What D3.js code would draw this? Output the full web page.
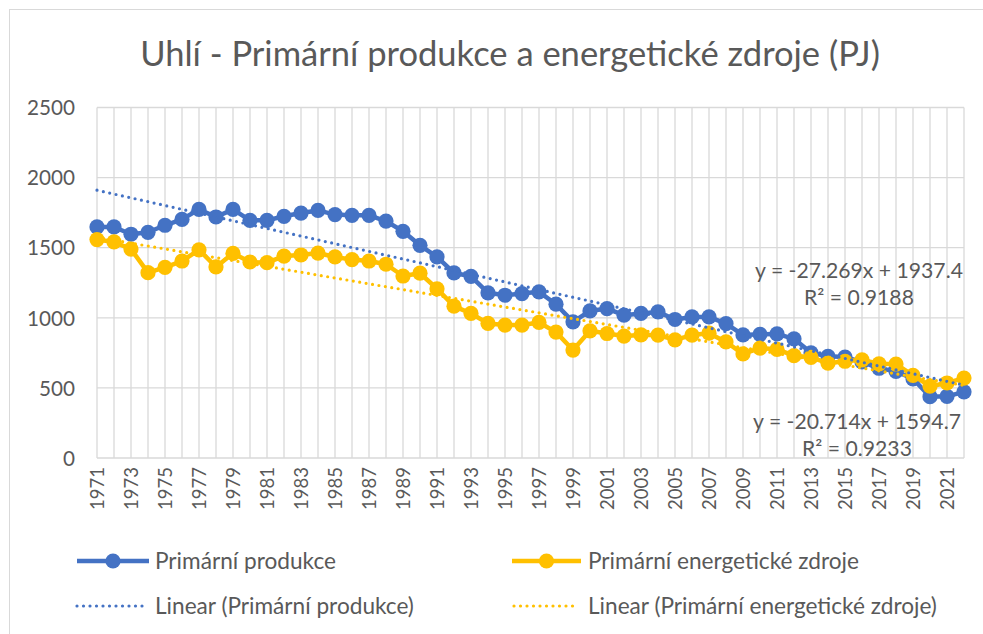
<!DOCTYPE html>
<html><head><meta charset="utf-8">
<script src="https://cdn.jsdelivr.net/npm/d3@7"></script>
<style>
body{margin:0;background:#fff}
svg{display:block}
text{font-family:Lato,"Open Sans",sans-serif;fill:#595959}
</style>
</head><body>
<svg id="chart" width="983" height="634"></svg>
<script>
const title = "Uhlí - Primární produkce a energetické zdroje (PJ)";
const years = [1971,1972,1973,1974,1975,1976,1977,1978,1979,1980,1981,1982,1983,1984,1985,1986,1987,1988,1989,1990,
  1991,1992,1993,1994,1995,1996,1997,1998,1999,2000,2001,2002,2003,2004,2005,2006,2007,2008,2009,2010,
  2011,2012,2013,2014,2015,2016,2017,2018,2019,2020,2021,2022];
const seriesNames = ["Primární produkce", "Primární energetické zdroje"];
const produkce = [1648,1648,1596,1610,1660,1702,1773,1719,1773,1695,1695,1724,1747,1766,1736,1731,1731,1690,1617,1517,
  1434,1320,1296,1178,1161,1173,1185,1097,971,1049,1066,1019,1031,1042,988,1006,1006,959,878,882,
  885,850,750,725,720,685,640,618,565,437,440,472];
const zdroje = [1558,1541,1490,1322,1360,1405,1485,1363,1460,1398,1393,1440,1448,1462,1434,1415,1405,1382,1298,1318,
  1207,1083,1031,960,948,948,967,898,770,907,888,870,878,877,842,877,890,828,742,783,
  775,730,718,676,690,700,672,670,590,512,535,570];
const trendSlope = [-27.269, -20.714];
const trendIntercept = [1937.4, 1594.7];
const rSquared = ["0.9188", "0.9233"];
const yTicks = [0,500,1000,1500,2000,2500];
const xTickLabels = [1971,1973,1975,1977,1979,1981,1983,1985,1987,1989,1991,1993,1995,1997,1999,2001,2003,2005,2007,2009,2011,2013,2015,2017,2019,2021];
const colors = ["#4472C4", "#FFC000"];

const svg = d3.select("#chart");
const L = 97, R = 964, T = 107.5, B = 458;
const x = d3.scalePoint().domain(years).range([L, R]);
const y = d3.scaleLinear().domain([0, 2500]).range([B, T]);

function fitSize(sel, target, base) {
  sel.style("font-size", base + "px");
  const w = sel.node().getComputedTextLength();
  return base * target / w;
}

// frame
svg.append("rect").attr("x", 9.5).attr("y", 9.5).attr("width", 1000).attr("height", 700)
  .attr("fill", "none").attr("stroke", "#d9d9d9").attr("stroke-width", 1);

// title
const t = svg.append("text").attr("x", 510).attr("y", 66).attr("text-anchor", "middle").text(title);
t.style("font-size", fitSize(t, 740, 30) + "px");

// gridlines
const grid = svg.append("g");
grid.selectAll("line.h").data(yTicks).join("line")
  .attr("x1", L).attr("x2", R).attr("y1", d => y(d)).attr("y2", d => y(d))
  .attr("stroke", "#d9d9d9").attr("stroke-width", 1.3);
grid.selectAll("line.v").data(years).join("line")
  .attr("x1", d => x(d)).attr("x2", d => x(d)).attr("y1", T).attr("y2", B)
  .attr("stroke", "#d9d9d9").attr("stroke-width", 1.3);

// y axis
const yAxis = svg.append("g").attr("transform", `translate(75,0)`)
  .call(d3.axisLeft(y).tickValues(yTicks).tickFormat(d3.format("d")).tickSize(0).tickPadding(0));
yAxis.select(".domain").remove();
const yt = yAxis.selectAll("text");
const ySize = fitSize(d3.select(yt.nodes()[5]), 48, 20);
yt.style("font-size", ySize + "px").attr("fill", "#595959").attr("font-family", null).attr("dy", "0.35em");

// x axis
const xAxis = svg.append("g").attr("transform", `translate(0,${B})`)
  .call(d3.axisBottom(x).tickValues(xTickLabels).tickSize(0).tickPadding(0));
xAxis.select(".domain").remove();
const xt = xAxis.selectAll("text");
const xSize = fitSize(d3.select(xt.nodes()[0]), 43, 18);
xt.style("font-size", xSize + "px").attr("fill", "#595959").attr("font-family", null)
  .attr("text-anchor", "end").attr("transform", "rotate(-90)")
  .attr("x", -9).attr("y", 0).attr("dy", "0.35em");

// series
const line = d3.line().x((d, i) => x(years[i])).y(d => y(d));
[produkce, zdroje].forEach((vals, k) => {
  const g = svg.append("g");
  g.append("path").datum(vals).attr("d", line).attr("fill", "none")
    .attr("stroke", colors[k]).attr("stroke-width", 4.5).attr("stroke-linejoin", "round");
  g.selectAll("circle").data(vals).join("circle")
    .attr("cx", (d, i) => x(years[i])).attr("cy", d => y(d)).attr("r", 7.6).attr("fill", colors[k]);
});

// trendlines (x = 1..n)
const n = years.length;
[0, 1].forEach(k => {
  const ends = [1, n].map(i => [x(years[i - 1]), y(trendSlope[k] * i + trendIntercept[k])]);
  svg.append("path").attr("d", d3.line()(ends)).attr("fill", "none")
    .attr("stroke", colors[k]).attr("stroke-width", 3.2).attr("stroke-linecap", "round")
    .attr("stroke-dasharray", "0,6.5");
});

// equations
const fmt = (s, b) => `y = ${s}x + ${b}`;
const eqPos = [[859, 278, 305], [857, 429, 456]];
let eqSize = null;
[0, 1].forEach(k => {
  const e = svg.append("text").attr("x", eqPos[k][0]).attr("y", eqPos[k][1]).attr("text-anchor", "middle")
    .text(fmt(trendSlope[k], trendIntercept[k]));
  if (eqSize === null) eqSize = fitSize(e, 208, 20);
  e.style("font-size", eqSize + "px");
  svg.append("text").attr("x", eqPos[k][0]).attr("y", eqPos[k][2]).attr("text-anchor", "middle")
    .style("font-size", eqSize + "px").text("R² = " + rSquared[k]);
});

// legend
const legend = svg.append("g");
const items = [
  {label: seriesNames[0], c: colors[0], type: "series", x1: 77, x2: 149, tx: 155, ty: 561},
  {label: seriesNames[1], c: colors[1], type: "series", x1: 512, x2: 581, tx: 588, ty: 561},
  {label: "Linear (" + seriesNames[0] + ")", c: colors[0], type: "trend", x1: 77, x2: 146, tx: 155, ty: 606},
  {label: "Linear (" + seriesNames[1] + ")", c: colors[1], type: "trend", x1: 514, x2: 578, tx: 588, ty: 606}
];
const probe = legend.append("text").text(items[3].label);
const legSize = fitSize(probe, 349, 19);
probe.remove();
items.forEach(it => {
  if (it.type === "series") {
    legend.append("line").attr("x1", it.x1).attr("x2", it.x2).attr("y1", it.ty).attr("y2", it.ty)
      .attr("stroke", it.c).attr("stroke-width", 4.5);
    legend.append("circle").attr("cx", (it.x1 + it.x2) / 2).attr("cy", it.ty).attr("r", 7.6).attr("fill", it.c);
  } else {
    legend.append("line").attr("x1", it.x1).attr("x2", it.x2).attr("y1", it.ty).attr("y2", it.ty)
      .attr("stroke", it.c).attr("stroke-width", 3.2).attr("stroke-linecap", "round").attr("stroke-dasharray", "0,6.5");
  }
  legend.append("text").attr("x", it.tx).attr("y", it.ty).attr("dy", "0.35em")
    .style("font-size", legSize + "px").text(it.label);
});
</script>
</body></html>
